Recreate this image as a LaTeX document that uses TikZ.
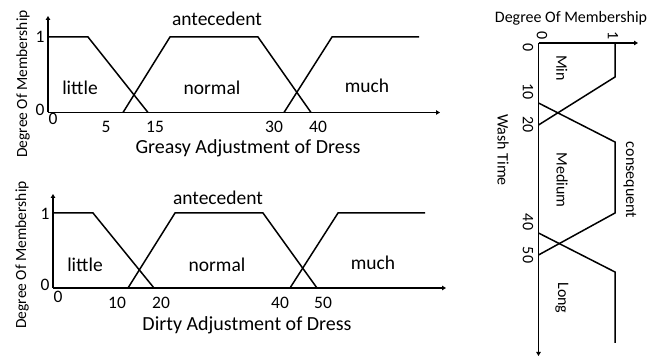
\documentclass[tikz,border=0pt]{standalone}
\usepackage{fontspec}
\setmainfont{Carlito}
\usepackage{tikz}
\usetikzlibrary{arrows.meta}

\tikzset{
	mf/.style={line width=1.5pt},
	axis/.style={line width=1.5pt,-{Triangle[length=4pt,width=4.5pt]}},
	lbl/.style={font=\fontsize{19.5}{19.5}\selectfont,inner sep=0pt},
	xlbl/.style={font=\fontsize{20}{20}\selectfont,inner sep=0pt},
	num/.style={font=\fontsize{17.5}{17.5}\selectfont,inner sep=0pt},
	ylbl/.style={font=\fontsize{15.5}{15.5}\selectfont,inner sep=0pt},
	rlbl/.style={font=\fontsize{16}{16}\selectfont,inner sep=0pt},
}

\begin{document}
\begin{tikzpicture}[x=1pt,y=-1pt]
	\useasboundingbox (0,0) rectangle (649,358);
	
	% greasy (top)
	\coordinate (go) at (48,112.5);
	\draw[axis] (go) -- (48,16);
	\draw[axis] (go) -- (440,112.5);
	\draw[mf] (48,37) -- (88,37) -- (148,112.5);
	\draw[mf] (123,112.5) -- (170,37) -- (258,37) -- (311,112.5);
	\draw[mf] (284,112.5) -- (332,37) -- (419,37);
	
	\node[num] (g1) at (40,37) {1};
	\node[num] (g0) at (40,110) {0};
	\node[num] at (53,119) {0};
	\node[num] at (106,127) {5};
	\node[num] at (155,127) {15};
	\node[num] at (274,127) {30};
	\node[num] at (318,127) {40};
	\node[xlbl] (gx) at (248,148) {Greasy Adjustment of Dress};
	\node[lbl] (ga) at (217,19) {antecedent};
	\node[lbl] at (80,88) {little};
	\node[lbl] at (212,88) {normal};
	\node[lbl] at (367,86) {much};
	\node[ylbl,rotate=90] (gy) at (23,84) {Degree Of Membership};
	
	% dirty (bottom)
	\coordinate (do) at (53,288);
	\draw[axis] (do) -- (53,194);
	\draw[axis] (do) -- (446,288);
	\draw[mf] (53,213) -- (93,213) -- (154,288);
	\draw[mf] (128,288) -- (175,213) -- (263,213) -- (317,288);
	\draw[mf] (290,288) -- (338,213) -- (425,213);
	
	\node[num] (d1) at (45,214) {1};
	\node[num] (d0) at (45,285) {0};
	\node[num] at (58,297) {0};
	\node[num] at (117,303) {10};
	\node[num] at (161,303) {20};
	\node[num] at (280,303) {40};
	\node[num] at (323,303) {50};
	\node[xlbl] (dx) at (247,325) {Dirty Adjustment of Dress};
	\node[lbl] (da) at (218,198) {antecedent};
	\node[lbl] at (85,265) {little};
	\node[lbl] at (217,265) {normal};
	\node[lbl] at (373,263) {much};
	\node[ylbl,rotate=90] (dy) at (22,255) {Degree Of Membership};
	
	% wash time (right)
	\coordinate (wo) at (538.5,43);
	\draw[axis] (wo) -- (638,43);
	\draw[axis] (wo) -- (538.5,356);
	\draw[mf] (615,43) -- (615,77) -- (538.5,125);
	\draw[mf] (538.5,103) -- (615,142) -- (615,213) -- (538.5,255);
	\draw[mf] (538.5,233) -- (615,272) -- (615,343);
	
	\node[rlbl] (wy) at (571,18) {Degree Of Membership};
	\node[rlbl,rotate=-90] at (542,36) {0};
	\node[rlbl,rotate=-90] at (613,36) {1};
	\node[rlbl,rotate=-90] at (528,48) {0};
	\node[rlbl,rotate=-90] at (528,92) {10};
	\node[rlbl,rotate=-90] at (528,125) {20};
	\node[rlbl,rotate=-90] at (528,222) {40};
	\node[rlbl,rotate=-90] at (528,255) {50};
	\node[rlbl,rotate=-90] (wx) at (503,150) {Wash Time};
	\node[rlbl,rotate=-90] at (562,68) {Min};
	\node[rlbl,rotate=-90] at (562,180) {Medium};
	\node[rlbl,rotate=-90] at (562,298) {Long};
	\node[rlbl,rotate=-90] (wc) at (630,180) {consequent};
	
\end{tikzpicture}
\end{document}
